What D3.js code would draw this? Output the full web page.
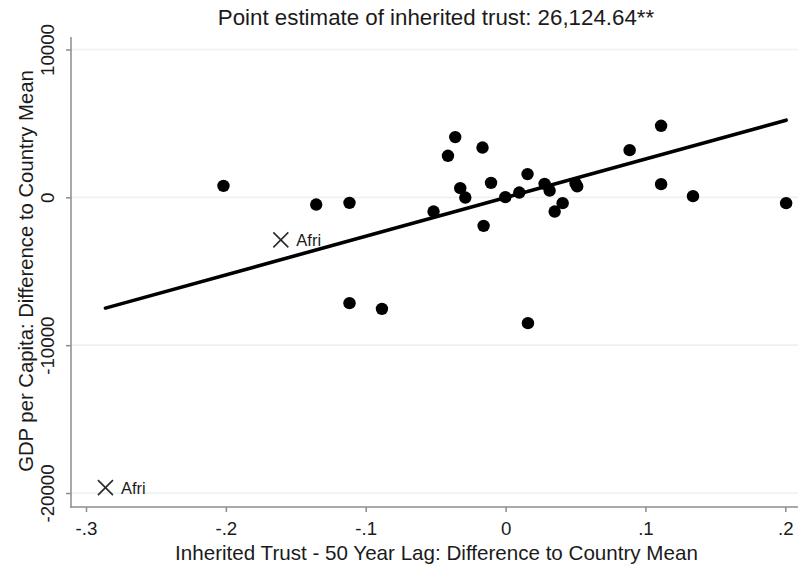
<!DOCTYPE html>
<html>
<head>
<meta charset="utf-8">
<script src="https://cdn.jsdelivr.net/npm/d3@7"></script>
<style>
  html, body { margin: 0; padding: 0; background: #fff; }
  svg { display: block; font-family: "Liberation Sans", Arial, sans-serif; }
</style>
</head>
<body>
<svg id="chart" width="798" height="569"></svg>
<script>
// Country-level deviations from the country mean
const trustDiff = [-0.2017, -0.1354, -0.1116, -0.1116, -0.0884, -0.0515, -0.0412, -0.0360,
  -0.0324, -0.0288, -0.0165, -0.0157, -0.0104, -0.0002, 0.0098, 0.0157, 0.0160, 0.0279,
  0.0315, 0.0351, 0.0408, 0.0500, 0.0512, 0.0887, 0.1112, 0.1112, 0.1340, 0.2006];
const gdpDiff = [778, -487, -372, -7158, -7544, -961, 2808, 4073,
  622, -14, 3370, -1928, 981, 14, 325, 1570, -8512, 913,
  460, -961, -392, 950, 740, 3193, 4838, 893, 81, -392];

// African observations, drawn as crosses
const afriTrust = [-0.1607, -0.2861];
const afriGdp = [-2876, -19635];
const afriLabels = ["Afri", "Afri"];

// Fitted line
const slope = 26124.64;
const intercept = -20;

const xTicks = [-0.3, -0.2, -0.1, 0, 0.1, 0.2];
const xTickLabels = ["-.3", "-.2", "-.1", "0", ".1", ".2"];
const yTicks = [-20000, -10000, 0, 10000];
const yTickLabels = ["-20000", "-10000", "0", "10000"];

const titleText = "Point estimate of inherited trust: 26,124.64**";
const xTitle = "Inherited Trust - 50 Year Lag: Difference to Country Mean";
const yTitle = "GDP per Capita: Difference to Country Mean";

const svg = d3.select("#chart");
const plotLeft = 71, plotRight = 798, plotTop = 37, plotBottom = 507;

const x = d3.scaleLinear().domain([-0.3, 0.2]).range([86, 785.3]);
const y = d3.scaleLinear().domain([-20000, 10000]).range([493, 49.5]);

const axisColor = "#8c8c8c";
const textColor = "#1b1b1b";
const tickFont = 18.7;

// Gridlines
svg.append("g").selectAll("line").data(yTicks).join("line")
  .attr("x1", plotLeft + 1).attr("x2", plotRight)
  .attr("y1", d => y(d)).attr("y2", d => y(d))
  .attr("stroke", "#eaf2f3").attr("stroke-width", 1.6);

// Y axis
const yAxis = d3.axisLeft(y).tickValues(yTicks).tickFormat((d, i) => yTickLabels[i])
  .tickSize(5).tickPadding(12);
const gy = svg.append("g").attr("transform", `translate(${plotLeft},0)`).call(yAxis);
gy.select(".domain").remove();
gy.selectAll(".tick line").attr("stroke", axisColor).attr("stroke-width", 1.5);
gy.selectAll(".tick text")
  .attr("fill", textColor).attr("font-size", tickFont).attr("font-family", "Liberation Sans, Arial, sans-serif")
  .attr("text-anchor", "middle").attr("dy", 0)
  .attr("x", 0).attr("y", 0)
  .attr("transform", "translate(-17.5,0) rotate(-90)");
svg.append("line").attr("x1", plotLeft).attr("x2", plotLeft)
  .attr("y1", plotTop).attr("y2", plotBottom + 0.75)
  .attr("stroke", axisColor).attr("stroke-width", 1.5);

// X axis
const xAxis = d3.axisBottom(x).tickValues(xTicks).tickFormat((d, i) => xTickLabels[i])
  .tickSize(5).tickPadding(9.5);
const gx = svg.append("g").attr("transform", `translate(0,${plotBottom})`).call(xAxis);
gx.select(".domain").remove();
gx.selectAll(".tick line").attr("stroke", axisColor).attr("stroke-width", 1.5);
gx.selectAll(".tick text")
  .attr("fill", textColor).attr("font-size", tickFont).attr("font-family", "Liberation Sans, Arial, sans-serif");
svg.append("line").attr("x1", plotLeft - 0.75).attr("x2", plotRight)
  .attr("y1", plotBottom).attr("y2", plotBottom)
  .attr("stroke", axisColor).attr("stroke-width", 1.5);

// Fitted line across the observed range
const allX = trustDiff.concat(afriTrust);
const xMin = d3.min(allX), xMax = d3.max(allX);
svg.append("line")
  .attr("x1", x(xMin)).attr("y1", y(intercept + slope * xMin))
  .attr("x2", x(xMax)).attr("y2", y(intercept + slope * xMax))
  .attr("stroke", "#000").attr("stroke-width", 3.6).attr("stroke-linecap", "round");

// Scatter points
svg.append("g").selectAll("circle").data(trustDiff).join("circle")
  .attr("cx", d => x(d)).attr("cy", (d, i) => y(gdpDiff[i]))
  .attr("r", 6.2).attr("fill", "#000");

// African crosses with labels
const afri = svg.append("g").selectAll("g").data(afriTrust).join("g")
  .attr("transform", (d, i) => `translate(${x(d)},${y(afriGdp[i])})`);
afri.append("path").attr("d", "M-7.5,-7.5L7.5,7.5M-7.5,7.5L7.5,-7.5")
  .attr("stroke", "#2a2a2a").attr("stroke-width", 1.6).attr("fill", "none");
afri.append("text").attr("x", 15.5).attr("y", 6)
  .attr("font-size", 16.5).attr("fill", textColor)
  .text((d, i) => afriLabels[i]);

// Titles
svg.append("text").attr("x", 436).attr("y", 25).attr("text-anchor", "middle")
  .attr("font-size", 22.3).attr("fill", textColor).text(titleText);
svg.append("text").attr("x", 436.5).attr("y", 559.5).attr("text-anchor", "middle")
  .attr("font-size", 20.6).attr("fill", textColor).text(xTitle);
svg.append("text").attr("transform", `translate(32.5,271) rotate(-90)`)
  .attr("text-anchor", "middle").attr("font-size", 20.3).attr("fill", textColor).text(yTitle);
</script>
</body>
</html>
